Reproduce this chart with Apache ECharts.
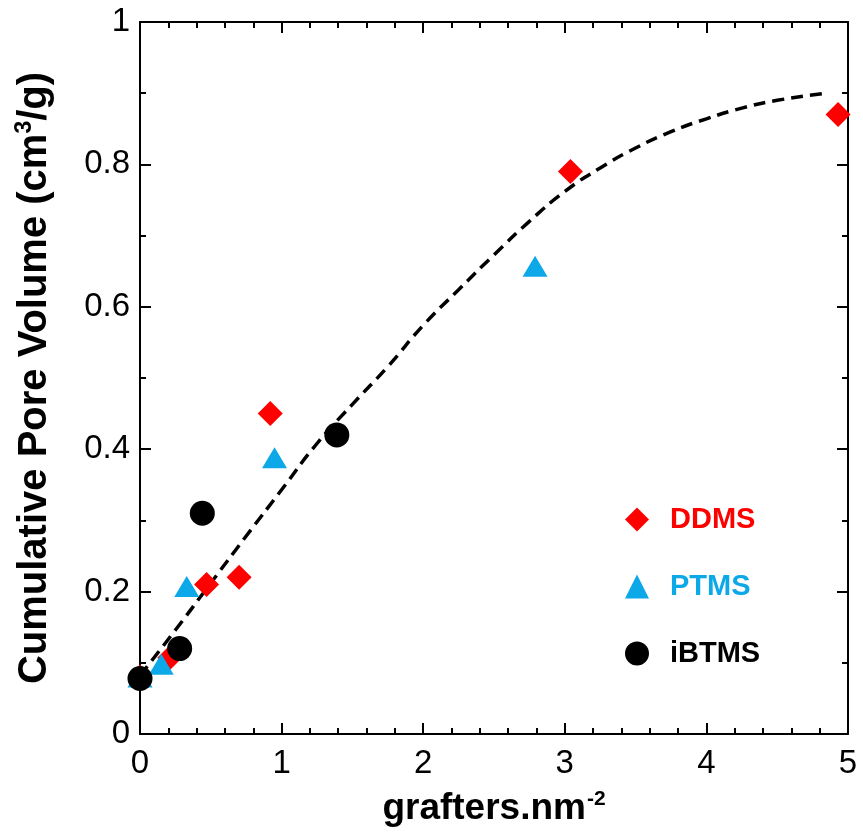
<!DOCTYPE html>
<html lang="en">
<head>
<meta charset="UTF-8">
<title>Cumulative Pore Volume</title>
<style>
  html, body { margin: 0; padding: 0; background: #fff; }
  #container { width: 863px; height: 832px; }
</style>
</head>
<body>
<div id="container"></div>
<script src="https://cdn.jsdelivr.net/npm/echarts@6/dist/echarts.min.js"></script>
<script>
  // values: [grafters.nm-2, pore volume]
  var ddms = [[0, 0.08], [0.21, 0.107], [0.47, 0.21], [0.70, 0.22], [0.92, 0.45], [3.04, 0.79], [4.93, 0.87]];
  var ptms = [[0, 0.08], [0.15, 0.098], [0.33, 0.207], [0.95, 0.388], [2.79, 0.657]];
  var ibtms = [[0, 0.078], [0.28, 0.12], [0.44, 0.31], [1.39, 0.42]];
  // dashed guide curve, traced point by point
  var fitX = [0, 0.25, 0.5, 0.75, 1.0, 1.25, 1.5, 1.75, 2.0, 2.25, 2.5, 2.75, 3.0, 3.25, 3.5, 3.75, 4.0, 4.25, 4.5, 4.85];
  var fitY = [0.082, 0.146, 0.212, 0.278, 0.343, 0.408, 0.463, 0.516, 0.574, 0.624, 0.673, 0.72, 0.762, 0.795, 0.823, 0.846, 0.864, 0.879, 0.89, 0.90];
  var xTicks = [0, 1, 2, 3, 4, 5];
  var yTicks = [0, 0.2, 0.4, 0.6, 0.8, 1];

  var fitData = fitX.map(function (x, i) { return [x, fitY[i]]; });
  var font = 'Arial, "Liberation Sans", sans-serif';

  var dom = document.getElementById('container');
  var myChart = echarts.init(dom);

  var baseAxis = {
    type: 'value',
    axisLine: { show: true, onZero: false, lineStyle: { color: '#000', width: 2 } },
    axisTick: { show: true, inside: true, length: 11, lineStyle: { color: '#000', width: 2 } },
    minorTick: { show: true, length: 6, lineStyle: { color: '#000', width: 2 } },
    splitLine: { show: false }
  };

  var option = {
    animation: false,
    backgroundColor: '#fff',
    grid: { left: 140, right: 15, top: 22, bottom: 98, outerBoundsMode: 'none', containLabel: false },
    xAxis: [
      echarts.util.merge({
        min: xTicks[0], max: xTicks[xTicks.length - 1], interval: 1,
        position: 'bottom',
        minorTick: { splitNumber: 5 },
        axisLabel: { fontFamily: font, fontSize: 33, color: '#000', margin: 13 },
        name: '{b|grafters.nm}{s|-2}',
        nameLocation: 'middle',
        nameGap: 55,
        nameTextStyle: {
          rich: {
            b: { fontFamily: font, fontWeight: 'bold', fontSize: 37, color: '#000' },
            s: { fontFamily: font, fontWeight: 'bold', fontSize: 21, color: '#000', verticalAlign: 'top', padding: [0, 0, 18, 1] }
          }
        }
      }, baseAxis, true),
      echarts.util.merge({
        min: xTicks[0], max: xTicks[xTicks.length - 1], interval: 1,
        position: 'top',
        minorTick: { splitNumber: 5 },
        axisLabel: { show: false }
      }, baseAxis, true)
    ],
    yAxis: [
      echarts.util.merge({
        min: yTicks[0], max: yTicks[yTicks.length - 1], interval: 0.2,
        position: 'left',
        minorTick: { splitNumber: 2 },
        axisLabel: {
          fontFamily: font, fontSize: 33, color: '#000', margin: 10,
          formatter: function (v) { return String(Math.round(v * 10) / 10); }
        },
        name: '{b|Cumulative Pore Volume (cm}{s|3}{b|/g)}',
        nameLocation: 'middle',
        nameGap: 84,
        nameRotate: 90,
        nameTextStyle: {
          rich: {
            b: { fontFamily: font, fontWeight: 'bold', fontSize: 40, color: '#000' },
            s: { fontFamily: font, fontWeight: 'bold', fontSize: 23, color: '#000', verticalAlign: 'top', padding: [0, 0, 20, 0] }
          }
        }
      }, baseAxis, true),
      echarts.util.merge({
        min: yTicks[0], max: yTicks[yTicks.length - 1], interval: 0.2,
        position: 'right',
        minorTick: { splitNumber: 2 },
        axisLabel: { show: false }
      }, baseAxis, true)
    ],
    legend: {
      orient: 'vertical',
      left: 620,
      top: 500,
      itemWidth: 24,
      itemHeight: 24,
      itemGap: 38,
      textStyle: { fontFamily: font, fontWeight: 'bold', fontSize: 29, padding: [0, 0, 0, 16] },
      data: [
        { name: 'DDMS', icon: 'diamond', textStyle: { color: '#ff0000' } },
        { name: 'PTMS', icon: 'triangle', textStyle: { color: '#0ca8e8' } },
        { name: 'iBTMS', icon: 'circle', textStyle: { color: '#000' } }
      ]
    },
    series: [
      {
        name: 'fit',
        type: 'line',
        data: fitData,
        smooth: true,
        symbol: 'none',
        lineStyle: { color: '#000', width: 3.5, type: [12, 7] },
        z: 1
      },
      {
        name: 'DDMS',
        type: 'scatter',
        data: ddms,
        symbol: 'diamond',
        symbolSize: [25, 25],
        itemStyle: { color: '#ff0000', opacity: 1 },
        z: 3
      },
      {
        name: 'PTMS',
        type: 'scatter',
        data: ptms,
        symbol: 'triangle',
        symbolSize: [25, 21],
        itemStyle: { color: '#0ca8e8', opacity: 1 },
        z: 4
      },
      {
        name: 'iBTMS',
        type: 'scatter',
        data: ibtms,
        symbol: 'circle',
        symbolSize: 25,
        itemStyle: { color: '#000', opacity: 1 },
        z: 5
      }
    ]
  };

  myChart.setOption(option, true);
</script>
</body>
</html>
